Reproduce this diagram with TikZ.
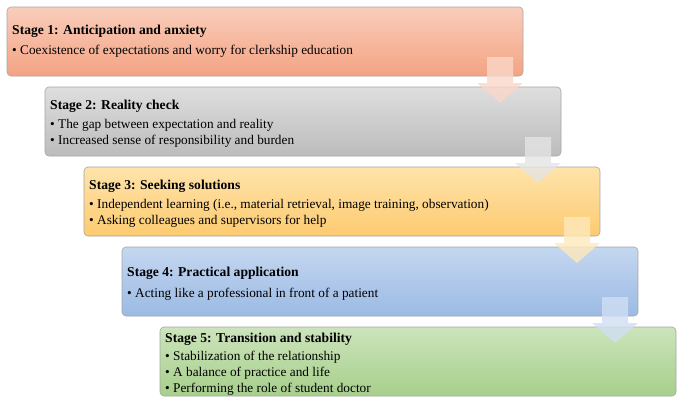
\documentclass[tikz,border=0pt]{standalone}
\usepackage{fontspec}
\setmainfont{Liberation Serif}
\usetikzlibrary{calc}
\begin{document}
\begin{tikzpicture}[x=1pt,y=-1pt,
 stagebox/.style={draw=gray!70,rounded corners=4pt,line width=0.6pt},
 ttl/.style={anchor=base west,inner sep=0pt,font=\fontsize{13.6}{15}\selectfont\bfseries},
 bul/.style={anchor=base west,inner sep=0pt,font=\fontsize{13.3}{15}\selectfont}]
\useasboundingbox[fill=white] (0,0) rectangle (685,405);
\definecolor{c1t}{HTML}{F9CDBB}\definecolor{c1b}{HTML}{F4A383}
\definecolor{c2t}{HTML}{DEDEDE}\definecolor{c2b}{HTML}{BCBCBC}
\definecolor{c3t}{HTML}{FEE3AB}\definecolor{c3b}{HTML}{FDCB70}
\definecolor{c4t}{HTML}{C4D7F0}\definecolor{c4b}{HTML}{9BBAE4}
\definecolor{c5t}{HTML}{CCE4BC}\definecolor{c5b}{HTML}{A7CF8B}
\newcommand{\stbox}[5]{%
 \draw[stagebox,top color=#4,bottom color=#5] (#2,#3) rectangle ++(516,69);
 \coordinate (#1) at (#2,#3);}
\newcommand{\darrow}[2]{%
 \fill[#2,opacity=0.8] ($(#1)+(480,50)$) -- ++(26,0) -- ++(0,26) -- ++(10,0) -- ++(-23,20) -- ++(-23,-20) -- ++(10,0) -- cycle;}
\stbox{b1}{7}{7}{c1t}{c1b}
\stbox{b2}{45}{87}{c2t}{c2b}
\darrow{b1}{c1t!80!white}
\stbox{b3}{84}{167}{c3t}{c3b}
\darrow{b2}{c2t!80!white}
\stbox{b4}{122}{247}{c4t}{c4b}
\darrow{b3}{c3t!80!white}
\stbox{b5}{160}{327}{c5t}{c5b}
\darrow{b4}{c4t!80!white}
\node[ttl] (t1) at ($(b1)+(5,27)$) {Stage 1: Anticipation and anxiety};
\node[bul] (t1a) at ($(b1)+(5,47)$) {• Coexistence of expectations and worry for clerkship education};
\node[ttl] (t2) at ($(b2)+(5,22)$) {Stage 2: Reality check};
\node[bul] (t2a) at ($(b2)+(5,41)$) {• The gap between expectation and reality};
\node[bul] (t2b) at ($(b2)+(5,57)$) {• Increased sense of responsibility and burden};
\node[ttl] (t3) at ($(b3)+(5,22)$) {Stage 3: Seeking solutions};
\node[bul] (t3a) at ($(b3)+(5,41)$) {• Independent learning (i.e., material retrieval, image training, observation)};
\node[bul] (t3b) at ($(b3)+(5,57)$) {• Asking colleagues and supervisors for help};
\node[ttl] (t4) at ($(b4)+(5,29)$) {Stage 4: Practical application};
\node[bul] (t4a) at ($(b4)+(5,50)$) {• Acting like a professional in front of a patient};
\node[ttl] (t5) at ($(b5)+(5,15)$) {Stage 5: Transition and stability};
\node[bul] (t5a) at ($(b5)+(5,33)$) {• Stabilization of the relationship};
\node[bul] (t5b) at ($(b5)+(5,49)$) {• A balance of practice and life};
\node[bul] (t5c) at ($(b5)+(5,65)$) {• Performing the role of student doctor};
\end{tikzpicture}
\end{document}
